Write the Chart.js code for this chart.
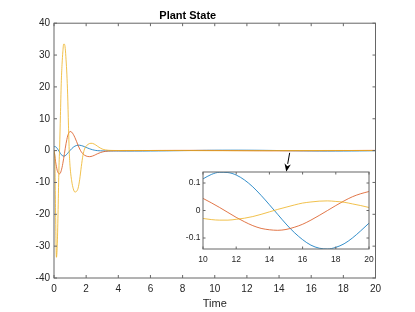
<!DOCTYPE html>
<html>
<head>
<meta charset="utf-8">
<script src="https://cdn.jsdelivr.net/npm/chart.js@4"></script>
<style>
  body { margin: 0; background: #fff; }
  #wrap { position: relative; width: 415px; height: 312px; }
  #main { position: absolute; left: 0; top: 0; }
  #inset { position: absolute; left: 180px; top: 160px; }
</style>
</head>
<body>
<div id="wrap">
  <canvas id="main" width="415" height="312"></canvas>
  <canvas id="inset" width="200" height="108"></canvas>
</div>
<script>
// sample times
const time = [
  0, 0.05, 0.1, 0.15, 0.2, 0.25, 0.3, 0.35, 0.4, 0.45, 0.5, 0.55, 0.6, 0.65, 0.7, 0.75, 0.8, 0.85, 0.9, 0.95, 1.0,
  1.1, 1.2, 1.3, 1.4, 1.5, 1.6, 1.7, 1.8, 1.9, 2.0, 2.1, 2.2, 2.3, 2.4, 2.5, 2.6, 2.7, 2.8, 2.9, 3.0,
  3.1, 3.2, 3.3, 3.4, 3.5, 3.6, 3.7, 3.8, 3.9, 4.0,
  4.5, 5, 5.5, 6, 6.5, 7, 7.5, 8, 8.5, 9, 9.5, 10, 10.5, 11, 11.5, 12, 12.5, 13, 13.5, 14, 14.5,
  15, 15.5, 16, 16.5, 17, 17.5, 18, 18.5, 19, 19.5, 20
];
const state1 = [
  1.2, 1.25, 1.2, 1.0, 0.7, 0.3, -0.1, -0.5, -0.9, -1.25, -1.5, -1.65, -1.72, -1.7, -1.6, -1.4, -1.15, -0.85, -0.55, -0.25, 0.05,
  0.6, 1.05, 1.4, 1.6, 1.7, 1.68, 1.58, 1.42, 1.22, 1.0, 0.8, 0.6, 0.42, 0.27, 0.15, 0.05, -0.01, -0.05, -0.07, -0.08,
  -0.09, -0.1, -0.105, -0.11, -0.113, -0.116, -0.118, -0.12, -0.121, -0.122,
  -0.136, -0.14, -0.136, -0.122, -0.101, -0.074, -0.042, -0.007, 0.028, 0.062, 0.091, 0.115, 0.131, 0.139, 0.138, 0.129, 0.111, 0.086, 0.055, 0.021, -0.014,
  -0.049, -0.080, -0.106, -0.126, -0.137, -0.140, -0.134, -0.121, -0.100, -0.074, -0.046
];
const state2 = [
  0, -1.5, -3.5, -5, -6.2, -6.9, -7.2, -7.3, -7.0, -6.3, -5.3, -4.0, -2.5, -0.9, 0.7, 2.2, 3.5, 4.6, 5.3, 5.8, 6.0,
  5.8, 5.1, 4.1, 2.9, 1.6, 0.5, -0.4, -1.0, -1.45, -1.7, -1.85, -1.9, -1.85, -1.7, -1.5, -1.25, -1.0, -0.8, -0.6, -0.45,
  -0.33, -0.24, -0.17, -0.12, -0.09, -0.07, -0.055, -0.047, -0.042, -0.038,
  -0.022, -0.004, 0.014, 0.032, 0.047, 0.059, 0.068, 0.072, 0.071, 0.066, 0.057, 0.044, 0.028, 0.011, -0.007, -0.025, -0.041, -0.055, -0.065, -0.070, -0.072,
  -0.069, -0.061, -0.050, -0.035, -0.018, 0.000, 0.018, 0.035, 0.050, 0.061, 0.069
];
const state3 = [
  0, -2, -20, -33.5, -30, -20, -7, 1, 11, 21, 27, 31, 33.4, 33.4, 32, 28.5, 24, 17.5, 8, -0.5, -5,
  -9.5, -12, -13, -12.8, -11.8, -9, -5, -1.5, 0.5, 1.4, 1.9, 2.2, 2.3, 2.25, 2.05, 1.75, 1.4, 1.05, 0.75, 0.5,
  0.33, 0.22, 0.15, 0.1, 0.07, 0.05, 0.04, 0.035, 0.032, 0.031,
  0.034, 0.035, 0.034, 0.031, 0.025, 0.019, 0.011, 0.002, -0.007, -0.016, -0.023, -0.029, -0.033, -0.035, -0.035, -0.032, -0.028, -0.022, -0.014, -0.005, 0.004,
  0.012, 0.020, 0.027, 0.031, 0.034, 0.035, 0.033, 0.030, 0.024, 0.018, 0.011
];
const seriesNames = ['x1', 'x2', 'x3'];
const seriesColors = ['#0072BD', '#D95319', '#EDB120'];
const arrowFrom = { x: 14.66, y: -0.7 };
const arrowTo = { x: 14.45, y: -6.65 };

const FONT = "'Liberation Sans', Arial, Helvetica, sans-serif";
const TXT = '#262626';
const AX = '#666';

function makeSets(tMin) {
  return [state1, state2, state3].map((vals, k) => ({
    label: seriesNames[k],
    data: time.map((t, i) => ({ x: t, y: vals[i] })).filter(p => p.x >= tMin),
    borderColor: seriesColors[k],
    borderWidth: 0.8,
    pointRadius: 0,
    cubicInterpolationMode: 'monotone',
    order: 3 - k
  }));
}

// box around plot + inward ticks on all four sides
const framePlugin = {
  id: 'frame',
  beforeDatasetsDraw(chart, args, opts) {
    if (!opts.fill) return;
    const a = chart.chartArea, ctx = chart.ctx;
    ctx.save();
    ctx.fillStyle = '#fff';
    ctx.fillRect(a.left, a.top, a.right - a.left, a.bottom - a.top);
    ctx.restore();
  },
  afterDatasetsDraw(chart, args, opts) {
    const { ctx, chartArea: a, scales: { x, y } } = chart;
    const len = opts.len || 3;
    ctx.save();
    ctx.strokeStyle = AX;
    ctx.lineWidth = 1;
    ctx.strokeRect(a.left, a.top, a.right - a.left, a.bottom - a.top);
    ctx.beginPath();
    x.ticks.forEach(t => {
      const px = x.getPixelForValue(t.value);
      ctx.moveTo(px, a.bottom); ctx.lineTo(px, a.bottom - len);
      ctx.moveTo(px, a.top); ctx.lineTo(px, a.top + len);
    });
    y.ticks.forEach(t => {
      const py = y.getPixelForValue(t.value);
      ctx.moveTo(a.left, py); ctx.lineTo(a.left + len, py);
      ctx.moveTo(a.right, py); ctx.lineTo(a.right - len, py);
    });
    ctx.stroke();
    ctx.restore();
  }
};

const arrowPlugin = {
  id: 'arrow',
  afterDraw(chart) {
    const { ctx, scales: { x, y } } = chart;
    const x0 = x.getPixelForValue(arrowFrom.x), y0 = y.getPixelForValue(arrowFrom.y);
    const x1 = x.getPixelForValue(arrowTo.x), y1 = y.getPixelForValue(arrowTo.y);
    const ang = Math.atan2(y1 - y0, x1 - x0);
    const hl = 8, hw = 3.2;
    ctx.save();
    ctx.strokeStyle = '#000';
    ctx.fillStyle = '#000';
    ctx.lineWidth = 1;
    ctx.beginPath();
    ctx.moveTo(x0, y0);
    ctx.lineTo(x1 - hl * Math.cos(ang), y1 - hl * Math.sin(ang));
    ctx.stroke();
    ctx.beginPath();
    ctx.moveTo(x1, y1);
    ctx.lineTo(x1 - hl * Math.cos(ang) + hw * Math.sin(ang), y1 - hl * Math.sin(ang) - hw * Math.cos(ang));
    ctx.lineTo(x1 - hl * 0.7 * Math.cos(ang), y1 - hl * 0.7 * Math.sin(ang));
    ctx.lineTo(x1 - hl * Math.cos(ang) - hw * Math.sin(ang), y1 - hl * Math.sin(ang) + hw * Math.cos(ang));
    ctx.closePath();
    ctx.fill();
    ctx.restore();
  }
};

new Chart(document.getElementById('main'), {
  type: 'line',
  data: { datasets: makeSets(0) },
  options: {
    responsive: false,
    animation: false,
    devicePixelRatio: 1,
    layout: { padding: { left: 0, right: 39.5, top: 0, bottom: 0 } },
    plugins: {
      legend: { display: false },
      tooltip: { enabled: false },
      title: {
        display: true, text: 'Plant State', color: '#000',
        font: { family: FONT, size: 11, weight: 'bold' },
        padding: { top: 9, bottom: 1 }
      },
      frame: { len: 3 }
    },
    scales: {
      x: {
        type: 'linear', min: 0, max: 20,
        ticks: { stepSize: 2, color: TXT, font: { family: FONT, size: 10 }, padding: 5, maxRotation: 0 },
        grid: { display: false, drawTicks: false },
        border: { display: false },
        title: { display: true, text: 'Time', color: TXT, font: { family: FONT, size: 11 }, padding: { top: 0, bottom: 1 } },
        afterFit: s => { s.height = 34; }
      },
      y: {
        min: -40, max: 40,
        ticks: { stepSize: 10, color: TXT, font: { family: FONT, size: 10 }, padding: 4 },
        grid: { display: false, drawTicks: false },
        border: { display: false },
        afterFit: s => { s.width = 54; }
      }
    }
  },
  plugins: [framePlugin, arrowPlugin]
});

new Chart(document.getElementById('inset'), {
  type: 'line',
  data: { datasets: makeSets(10) },
  options: {
    responsive: false,
    animation: false,
    devicePixelRatio: 1,
    layout: { padding: { left: 0, right: 11, top: 12, bottom: 0 } },
    plugins: {
      legend: { display: false },
      tooltip: { enabled: false },
      frame: { len: 2.5, fill: true }
    },
    scales: {
      x: {
        type: 'linear', min: 10, max: 20,
        ticks: { stepSize: 2, color: TXT, font: { family: FONT, size: 8.5 }, padding: 6, maxRotation: 0 },
        grid: { display: false, drawTicks: false },
        border: { display: false },
        afterFit: s => { s.height = 19; }
      },
      y: {
        min: -0.14, max: 0.14,
        ticks: { stepSize: 0.1, includeBounds: false, color: TXT, font: { family: FONT, size: 8.5 }, padding: 2.5 },
        grid: { display: false, drawTicks: false },
        border: { display: false },
        afterFit: s => { s.width = 23; }
      }
    }
  },
  plugins: [framePlugin]
});
</script>
</body>
</html>
